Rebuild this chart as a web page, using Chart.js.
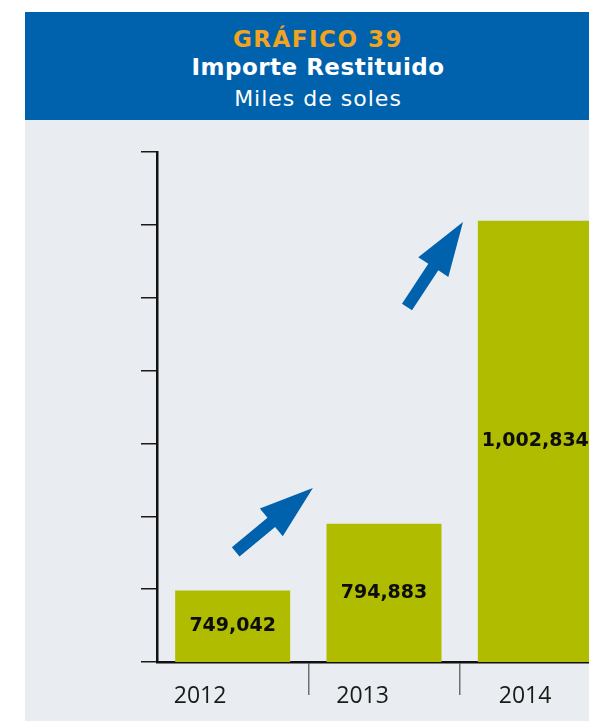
<!DOCTYPE html>
<html><head><meta charset="utf-8">
<script src="https://cdn.jsdelivr.net/npm/chart.js@4.4.1/dist/chart.umd.min.js"></script>
<style>
html,body{margin:0;padding:0;background:#fff;overflow:hidden;width:589px;height:721px;}
#wrap{position:absolute;left:25px;top:12px;width:586px;height:709px;background:#E9EDF1;}
#head{position:absolute;left:0;top:0;width:586px;height:108px;background:#0062AC;font-family:"DejaVu Sans",sans-serif;text-align:center;}
.l{position:absolute;left:0;width:100%;white-space:nowrap;line-height:normal;}
#t1{top:13.7px;font-size:23px;font-weight:bold;color:#F2A31F;letter-spacing:1.5px;}
#t2{top:41.7px;font-size:23px;font-weight:bold;color:#fff;letter-spacing:0.5px;}
#t3{top:73.6px;font-size:22px;font-weight:normal;color:#fff;letter-spacing:1px;}
#cv{position:absolute;left:0;top:108px;}
</style></head>
<body>
<div id="wrap">
  <div id="head">
    <div class="l" id="t1">GRÁFICO 39</div>
    <div class="l" id="t2">Importe Restituido</div>
    <div class="l" id="t3">Miles de soles</div>
  </div>
  <canvas id="cv" width="586" height="601"></canvas>
</div>
<script>
// ---- data ----
const categories = ['2012', '2013', '2014'];
const importe = [749042, 794883, 1002834];
const yMin = 700000;
const yMax = 1050000;
const yStep = 50000;
// decorative arrows, in data units (category index, value)
const arrowTailX = [0.02, 1.152];
const arrowTailY = [775500, 943600];
const arrowHeadX = [0.53, 1.522];
const arrowHeadY = [819400, 1002000];
// label axis range (year labels sit slightly left of bar centres)
const labelAxisMin = -0.265;
const labelAxisMax = 2.529;

function drawArrow(ctx, x1, y1, x2, y2) {
  const dx = x2 - x1, dy = y2 - y1, L = Math.hypot(dx, dy);
  const ux = dx / L, uy = dy / L, nx = -uy, ny = ux;
  const hl = 54, hw = 18, sw = 6;
  const bx = x2 - ux * hl, by = y2 - uy * hl;
  ctx.beginPath();
  ctx.moveTo(x1 + nx * sw, y1 + ny * sw);
  ctx.lineTo(bx + nx * sw, by + ny * sw);
  ctx.lineTo(bx + nx * hw, by + ny * hw);
  ctx.lineTo(x2, y2);
  ctx.lineTo(bx - nx * hw, by - ny * hw);
  ctx.lineTo(bx - nx * sw, by - ny * sw);
  ctx.lineTo(x1 - nx * sw, y1 - ny * sw);
  ctx.closePath();
  ctx.fill();
}

const decorPlugin = {
  id: 'decor',
  afterDraw(chart) {
    const ctx = chart.ctx;
    const xs = chart.scales.x, ys = chart.scales.y;
    ctx.save();
    // value labels
    ctx.font = 'bold 19px "DejaVu Sans", sans-serif';
    ctx.fillStyle = '#0d0d0d';
    ctx.textAlign = 'center';
    ctx.textBaseline = 'middle';
    for (let i = 0; i < importe.length; i++) {
      const x = xs.getPixelForValue(i);
      const yTop = ys.getPixelForValue(importe[i]);
      const yBase = ys.getPixelForValue(yMin);
      ctx.fillText(importe[i].toLocaleString('en-US'), x, (yTop + yBase) / 2);
    }
    // arrows
    ctx.fillStyle = '#0062AC';
    for (let i = 0; i < arrowTailX.length; i++) {
      drawArrow(ctx,
        xs.getPixelForValue(arrowTailX[i]), ys.getPixelForValue(arrowTailY[i]),
        xs.getPixelForValue(arrowHeadX[i]), ys.getPixelForValue(arrowHeadY[i]));
    }
    ctx.restore();
  }
};

new Chart(document.getElementById('cv'), {
  type: 'bar',
  data: {
    labels: categories,
    datasets: [{
      data: importe,
      backgroundColor: '#AFBC00',
      borderWidth: 0,
      barPercentage: 0.76,
      categoryPercentage: 1.0,
      xAxisID: 'x',
      yAxisID: 'y'
    }]
  },
  options: {
    responsive: false,
    animation: false,
    devicePixelRatio: 1,
    layout: { padding: { left: 116, right: 0, top: 32, bottom: 0 } },
    plugins: { legend: { display: false }, tooltip: { enabled: false }, title: { display: false } },
    scales: {
      x: {
        type: 'category',
        position: 'bottom',
        weight: 0,
        offset: true,
        afterFit: (s) => { s.height = 0; },
        grid: {
          offset: true,
          drawOnChartArea: false,
          drawTicks: true,
          tickLength: 33,
          lineWidth: 1.5,
          color: (c) => (c.index === 0 ? 'rgba(0,0,0,0)' : '#707070')
        },
        border: { display: true, color: '#111', width: 2.5 },
        ticks: { display: false }
      },
      x2: {
        type: 'linear',
        axis: 'x',
        position: 'bottom',
        weight: 1,
        offset: false,
        min: labelAxisMin,
        max: labelAxisMax,
        afterFit: (s) => { s.height = 59; },
        grid: { display: false, drawTicks: false, offset: false },
        border: { display: false },
        ticks: {
          stepSize: 1,
          includeBounds: false,
          autoSkip: true,
          maxRotation: 0,
          padding: 21,
          color: '#1a1a1a',
          font: { family: 'Open Sans', size: 23 },
          callback: (v) => (Number.isInteger(v) && categories[v] !== undefined ? categories[v] : '')
        }
      },
      y: {
        min: yMin,
        max: yMax,
        ticks: { stepSize: yStep, display: false },
        grid: { drawOnChartArea: false, drawTicks: true, tickLength: 16, color: '#1a1a1a', lineWidth: 1.5 },
        border: { display: true, color: '#111', width: 2.5 }
      }
    }
  },
  plugins: [decorPlugin]
});
</script>
</body></html>
